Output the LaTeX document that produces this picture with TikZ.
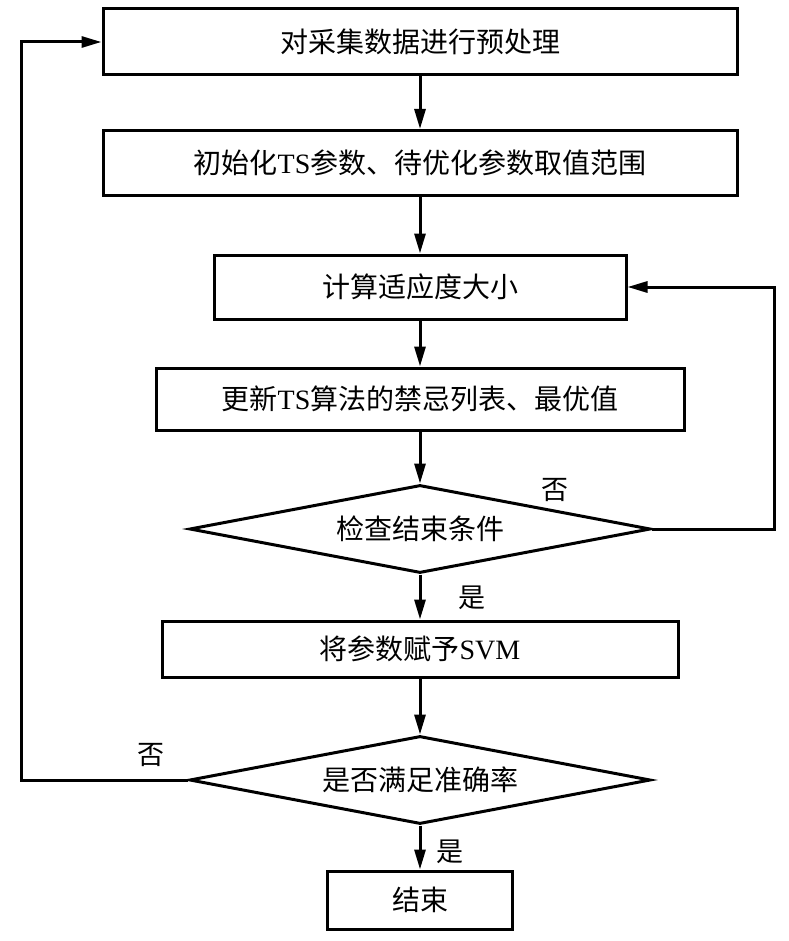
\documentclass[tikz,border=0pt]{standalone}
\usepackage{fontspec}
\setmainfont{Liberation Serif}
\newfontfamily\cjk{Noto Sans CJK SC}
\usetikzlibrary{positioning,shapes.geometric,arrows.meta}

\begin{document}
\begin{tikzpicture}[x=1pt,y=-1pt,
  box/.style={draw,line width=3pt,inner sep=0pt,font=\fontsize{28}{32}\selectfont\cjk},
  dia/.style={draw,diamond,aspect=5.24,line width=3pt,inner sep=0pt,minimum width=461pt,minimum height=88pt,font=\fontsize{28}{32}\selectfont\cjk},
  lab/.style={font=\fontsize{27}{30}\selectfont\cjk},
  arr/.style={line width=3pt,-{Triangle[length=20pt,width=11pt]}}]
\useasboundingbox (0,0) rectangle (788,941);
\node[box,minimum width=634pt,minimum height=66pt] (pre) at (420,42) {对采集数据进行预处理};
\node[box,minimum width=634pt,minimum height=65pt] (init) at (420,163) {初始化{\rmfamily TS}参数、待优化参数取值范围};
\node[box,minimum width=412pt,minimum height=64pt] (fit) at (420,287) {计算适应度大小};
\node[box,minimum width=528pt,minimum height=62pt] (upd) at (420,399) {更新{\rmfamily TS}算法的禁忌列表、最优值};
\node[dia] (chk) at (420,529) {检查结束条件};
\node[box,minimum width=516pt,minimum height=56pt] (svm) at (420,649) {将参数赋予{\rmfamily SVM}};
\node[dia] (acc) at (420,780) {是否满足准确率};
\node[box,minimum width=185pt,minimum height=58pt] (fin) at (420,900) {结束};
\coordinate (rt) at (774,400);
\coordinate (lt) at (21,400);
\foreach \a/\b in {pre/init,init/fit,fit/upd,upd/chk,chk/svm,svm/acc,acc/fin}
  \draw[arr] (\a) -- (\b);
\draw[arr] (chk.east) -| (rt) |- (fit.east);
\draw[arr] (acc.west) -| (lt) |- (pre.west);
\node[lab] (no1) at (555,490) {否};
\node[lab] (yes1) at (472,598) {是};
\node[lab] (no2) at (151,755) {否};
\node[lab] (yes2) at (450,852) {是};
\end{tikzpicture}
\end{document}
